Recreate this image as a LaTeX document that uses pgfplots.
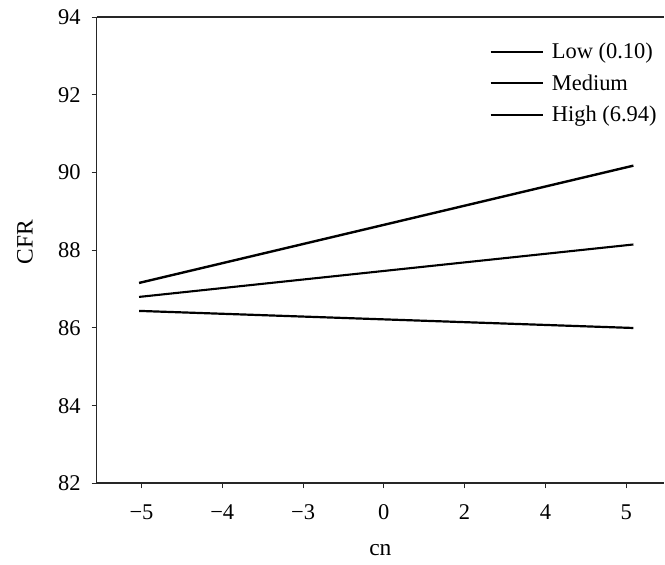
\documentclass[border=0pt]{standalone}
\usepackage{pgfplots}
\pgfplotsset{compat=1.18}
\usetikzlibrary{calc}
\usepackage{fontspec}
\setmainfont{Liberation Serif}
\newcommand{\chartfont}{\fontsize{22.5}{27}\selectfont}
\begin{document}
\begin{tikzpicture}
\begin{axis}[
  name=ax,
  scale only axis,
  width=568.3pt, height=466.7pt,
  xmin=-0.556, xmax=6.47, ymin=82, ymax=94,
  axis x line=box, axis y line=left,
  axis line style={-, line width=1.8pt, black!85},
  xtick={0,1,2,3,4,5,6},
  xticklabels={−5,−4,−3,0,2,4,5},
  ytick={82,84,86,88,90,92,94},
  xtick pos=bottom,
  tick align=outside,
  major tick length=5pt,
  tick style={line width=1pt, black!85},
  /pgf/number format/assume math mode=true,
  tick label style={font=\chartfont},
  yticklabel style={xshift=-7.5pt},
  xticklabel style={yshift=-12.5pt},
  label style={font=\fontsize{23.5}{28}\selectfont},
  xlabel={cn},
  xlabel style={at={(rel axis cs:0.5,-0.1436)}, anchor=center},
  ylabel={CFR},
  ylabel style={at={(rel axis cs:-0.1262,0.517)}, anchor=center},
  legend style={draw=none, fill=none, font=\chartfont, at={(0.692,0.949)}, anchor=north west, inner sep=0pt, row sep=10.5pt},
  legend cell align=left,
  legend image code/.code={\draw[#1] (0pt,0pt) -- (52pt,0pt);},
]
\addplot[black, line width=2.4pt] coordinates {(-0.03,87.16) (6.09,90.18)};
\addlegendentry{\hspace{6pt}Low (0.10)}
\addplot[black, line width=2.1pt] coordinates {(-0.03,86.80) (6.09,88.15)};
\addlegendentry{\hspace{6pt}Medium}
\addplot[black, line width=2.2pt] coordinates {(-0.03,86.44) (6.09,86.00)};
\addlegendentry{\hspace{6pt}High (6.94)}
\end{axis}
\useasboundingbox ($(ax.south west)+(-96.7pt,-81pt)$) rectangle ($(ax.north east)+(0pt,17.3pt)$);
\end{tikzpicture}
\end{document}
